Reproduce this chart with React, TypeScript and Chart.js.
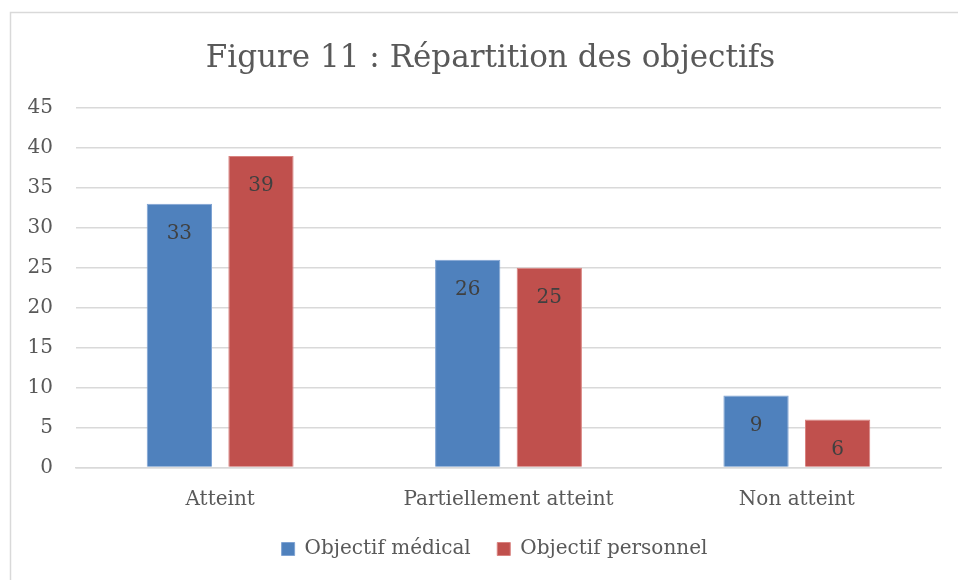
import React, { useEffect, useRef } from "react";
import { Chart, registerables } from "chart.js";

Chart.register(...registerables);

const categories = ["Atteint", "Partiellement atteint", "Non atteint"];
const medicalValues = [33, 26, 9];
const personalValues = [39, 25, 6];
const seriesNames = ["Objectif médical", "Objectif personnel"];
const titleText = "Figure 11 : Répartition des objectifs";

const FONT = "'DejaVu Serif', serif";

const frame = {
  id: "frame",
  beforeDraw(chart: any) {
    const ctx = chart.ctx;
    ctx.save();
    ctx.fillStyle = "#ffffff";
    ctx.fillRect(0, 0, chart.width, chart.height);
    ctx.strokeStyle = "#d9d9d9";
    ctx.lineWidth = 1.5;
    ctx.strokeRect(10.5, 12.5, chart.width + 20, chart.height + 20);
    ctx.restore();
  },
};

const chartTitle = {
  id: "chartTitle",
  afterDraw(chart: any) {
    const ctx = chart.ctx;
    ctx.save();
    ctx.font = `31px ${FONT}`;
    ctx.fillStyle = "#595959";
    ctx.textAlign = "center";
    ctx.textBaseline = "alphabetic";
    ctx.fillText(titleText, 490.5, 67);
    ctx.restore();
  },
};

const valueLabels = {
  id: "valueLabels",
  afterDatasetsDraw(chart: any) {
    const ctx = chart.ctx;
    ctx.save();
    ctx.font = `20px ${FONT}`;
    ctx.fillStyle = "#404040";
    ctx.textAlign = "center";
    ctx.textBaseline = "alphabetic";
    chart.data.datasets.forEach((ds: any, i: number) => {
      const meta = chart.getDatasetMeta(i);
      meta.data.forEach((el: any, j: number) => {
        ctx.fillText(String(ds.data[j]), el.x, el.y + 35);
      });
    });
    ctx.restore();
  },
};

export default function App() {
  const ref = useRef<HTMLCanvasElement | null>(null);
  useEffect(() => {
    if (!ref.current) return;
    const chart = new Chart(ref.current, {
      type: "bar",
      data: {
        labels: categories,
        datasets: [
          {
            label: seriesNames[0],
            data: medicalValues,
            backgroundColor: "#4f81bd",
            borderColor: "#7fa3d3",
            borderWidth: 1,
            categoryPercentage: 0.566,
            barPercentage: 0.8,
          },
          {
            label: seriesNames[1],
            data: personalValues,
            backgroundColor: "#c0504d",
            borderColor: "#d98380",
            borderWidth: 1,
            categoryPercentage: 0.566,
            barPercentage: 0.8,
          },
        ],
      },
      options: {
        animation: false,
        responsive: false,
        maintainAspectRatio: false,
        layout: { padding: { left: 48, right: 17, top: 108, bottom: 11 } },
        plugins: {
          title: { display: false },
          legend: {
            position: "bottom",
            labels: {
              color: "#595959",
              font: { family: FONT, size: 20 },
              boxWidth: 13,
              boxHeight: 13,
              padding: 26.5,
            },
          },
          tooltip: { enabled: false },
        },
        scales: {
          x: {
            grid: { display: false, drawTicks: true, tickLength: 20 },
            border: { display: true, color: "#d9d9d9", width: 1.5 },
            ticks: {
              color: "#595959",
              font: { family: FONT, size: 20 },
              padding: 0.5,
            },
          },
          y: {
            min: 0,
            max: 45,
            afterFit: (s: any) => {
              s.width = 28;
              s._computeLabelArea = () => undefined;
            },
            grid: { color: "#d9d9d9", lineWidth: 1.5, drawTicks: false },
            border: { display: false },
            ticks: {
              stepSize: 5,
              color: "#595959",
              font: { family: FONT, size: 20 },
              padding: 23,
            },
          },
        },
      },
      plugins: [frame, valueLabels, chartTitle],
    });
    return () => chart.destroy();
  }, []);
  return (
    <div style={{ position: "fixed", left: 0, top: 0, width: 958, height: 580 }}>
      <canvas ref={ref} width={958} height={580} style={{ width: 958, height: 580 }} />
    </div>
  );
}
